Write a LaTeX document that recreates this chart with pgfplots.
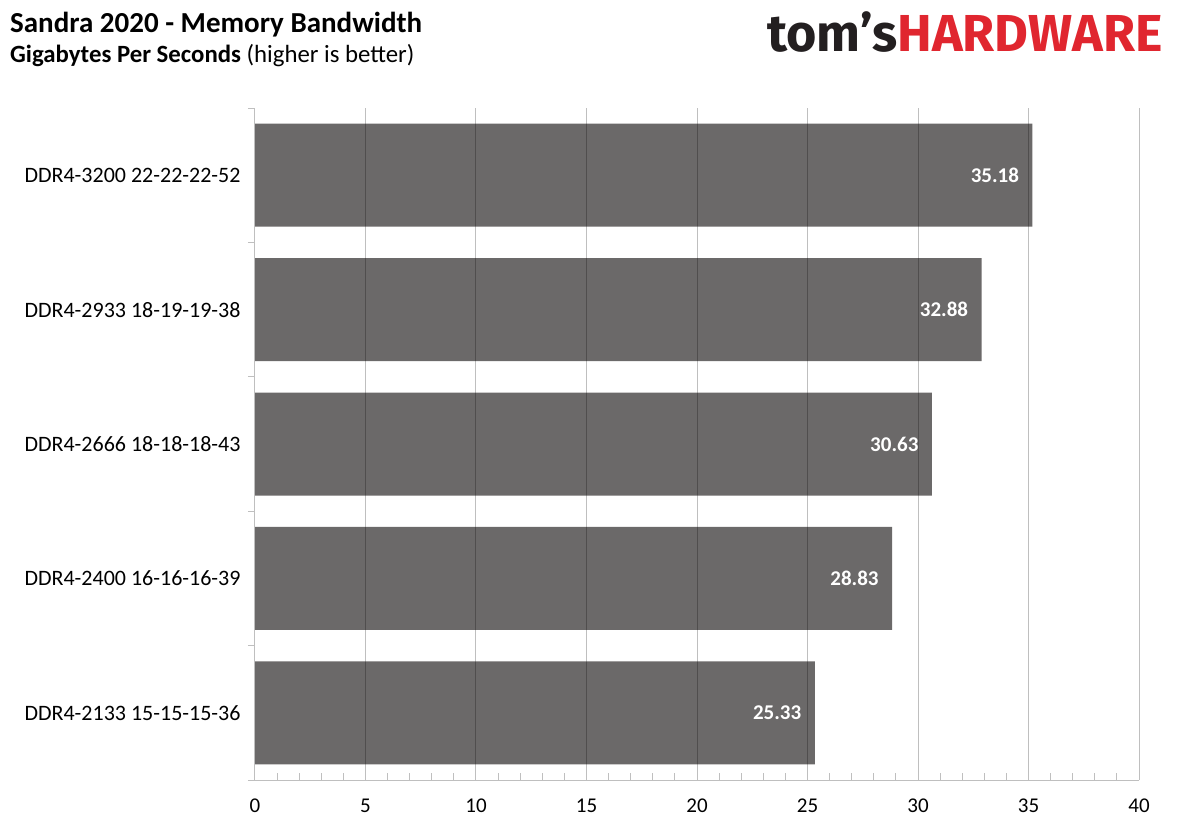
\documentclass[border=0pt]{standalone}
\usepackage{pgfplots}
\pgfplotsset{compat=1.18}
\usepackage{fontspec}
\setmainfont{Carlito}
\newfontfamily\logofont{Fira Sans}
\definecolor{bargray}{HTML}{6B6969}
\definecolor{axisgray}{HTML}{BFBFBF}
\definecolor{thred}{HTML}{E0262F}
\definecolor{thdark}{HTML}{231F20}

\begin{document}
\begin{tikzpicture}
\path[use as bounding box] (0pt,0pt) rectangle (1179pt,832pt);
% titles
\node[anchor=base west, inner sep=0, font=\fontsize{29}{31}\selectfont\bfseries] at (10pt,799pt) {Sandra 2020 - Memory Bandwidth};
\node[anchor=base west, inner sep=0, font=\fontsize{24.8}{27}\selectfont] at (10pt,769pt) {\textbf{Gigabytes Per Seconds} (higher is better)};
% logo
\node[anchor=base east, inner sep=0, font=\logofont\bfseries\fontsize{52}{56}\selectfont] at (1163pt,780pt) {\textcolor{thdark}{tom’s}\textcolor{thred}{HARDWARE}};

\begin{axis}[
  at={(255pt,52pt)}, anchor=south west,
  scale only axis, width=884pt, height=672pt,
  xbar, bar width=103pt,
  xmin=0, xmax=40, ymin=-0.5, ymax=4.5, y dir=reverse,
  axis x line=bottom, axis y line=left,
  axis line style={axisgray, line width=1pt, -},
  axis on top,
  tick align=inside,
  major tick length=7pt, minor tick length=7pt,
  tick style={axisgray, line width=1pt},
  xtick={0,5,...,40}, minor xtick={0,1,...,40},
  xmajorgrids, major grid style={black, opacity=0.25, line width=1pt},
  ytick={-0.5,0.5,...,4.5}, yticklabels={},
  y tick style={xshift=-7pt},
  extra y ticks={0,1,2,3,4},
  extra y tick labels={DDR4-3200 22-22-22-52, DDR4-2933 18-19-19-38, DDR4-2666 18-18-18-43, DDR4-2400 16-16-16-39, DDR4-2133 15-15-15-36},
  extra y tick style={major tick length=0pt, yticklabel style={xshift=-11pt, font=\fontsize{22}{24}\selectfont}},
  /pgf/number format/assume math mode=true,
  tick label style={font=\fontsize{21}{24}\selectfont, text=black},
  xticklabel style={yshift=-15pt},
  nodes near coords={\pgfmathprintnumber[fixed, fixed zerofill, precision=2]{\pgfplotspointmeta}},
  nodes near coords style={anchor=east, xshift=-10pt, text=white, font=\fontsize{21}{24}\selectfont\bfseries},
]
\addplot[fill=bargray, draw=none] coordinates {
  (35.18,0) (32.88,1) (30.63,2) (28.83,3) (25.33,4)
};
\end{axis}
\end{tikzpicture}
\end{document}
